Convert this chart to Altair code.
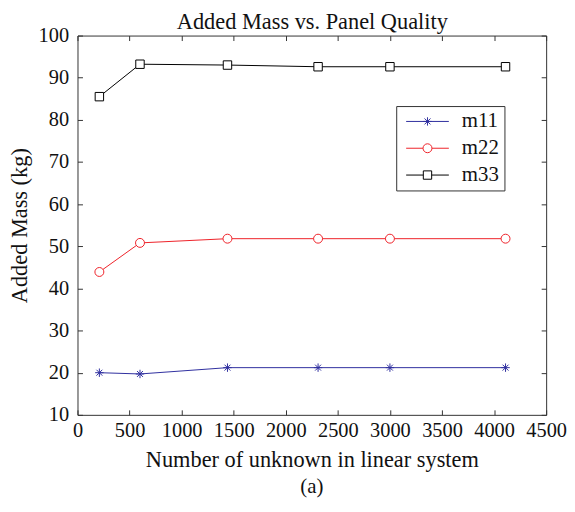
import altair as alt
import pandas as pd

# ---- data ----
chart_title = "Added Mass vs. Panel Quality"
x_title = "Number of unknown in linear system"
caption = "(a)"
y_title = "Added Mass (kg)"

series = ["m11", "m22", "m33"]
x_vals = [210, 600, 1440, 2310, 3000, 4110]
m11 = [20.0, 19.7, 21.2, 21.2, 21.2, 21.2]
m22 = [43.9, 50.8, 51.8, 51.8, 51.8, 51.8]
m33 = [85.5, 93.2, 93.0, 92.6, 92.6, 92.6]

x_ticks = [0, 500, 1000, 1500, 2000, 2500, 3000, 3500, 4000, 4500]
y_ticks = [10, 20, 30, 40, 50, 60, 70, 80, 90, 100]

# ---- styling ----
colors = ["#2f2f9f", "#ee2229", "#000000"]
FONT = "Liberation Serif"
AXC = "#333333"
TXT = "#111111"
LBL = 20.5
TTL = 22.5

star = "M-1,0H1M0,-1V1M-0.7,-0.7L0.7,0.7M-0.7,0.7L0.7,-0.7"
plot_shapes = [star, "circle", "square"]
plot_sizes = [72, 81, 72]

legend_shapes = [
    "M-2.15,0H2.15M-0.42,0H0.42M0,-0.42V0.42M-0.3,-0.3L0.3,0.3M-0.3,0.3L0.3,-0.3",
    "M-2.15,0H-0.45M0.45,0H2.15M0.45,0A0.45,0.45,0,1,1,-0.45,0A0.45,0.45,0,1,1,0.45,0Z",
    "M-2.15,0H-0.42M0.42,0H2.15M-0.42,-0.42H0.42V0.42H-0.42Z",
]

rows = []
for name, vals in zip(series, [m11, m22, m33]):
    for xv, yv in zip(x_vals, vals):
        rows.append({"series": name, "x": xv, "y": yv})
df = pd.DataFrame(rows)

xscale = alt.Scale(domain=[0, 4500], nice=False, zero=False)
yscale = alt.Scale(domain=[10, 100], nice=False, zero=False)
stroke_scale = alt.Scale(domain=series, range=colors)

x_axis = alt.Axis(values=x_ticks, title=x_title, format="d", offset=-5, tickSize=5, domain=False,
                  grid=False, labelPadding=6, titlePadding=8,
                  labelFont=FONT, labelFontSize=LBL, titleFont=FONT, titleFontSize=TTL,
                  titleFontWeight="normal", labelColor=TXT, titleColor=TXT,
                  tickColor=AXC, labelFlush=False, labelOverlap=False)
y_axis = alt.Axis(values=y_ticks, title=y_title, format="d", offset=-5, tickSize=5, domain=False,
                  grid=False, labelPadding=9, titlePadding=7,
                  labelFont=FONT, labelFontSize=LBL, titleFont=FONT, titleFontSize=TTL,
                  titleFontWeight="normal", labelColor=TXT, titleColor=TXT,
                  tickColor=AXC, labelFlush=False, labelOverlap=False)

X = alt.X("x:Q", scale=xscale, axis=x_axis)
Y = alt.Y("y:Q", scale=yscale, axis=y_axis)

base = alt.Chart(df)

layers = []
for s, col in zip(series, colors):
    layers.append(
        base.transform_filter(alt.datum.series == s)
        .mark_line(strokeWidth=1, stroke=col)
        .encode(x=X, y=Y)
    )
for s, col, shp, sz in zip(series, colors, plot_shapes, plot_sizes):
    layers.append(
        base.transform_filter(alt.datum.series == s)
        .mark_point(shape=shp, size=sz, filled=True, fill="white", stroke=col,
                    strokeWidth=1, opacity=1)
        .encode(x=X, y=Y)
    )

leg = alt.Legend(
    orient="none", legendX=321, legendY=71, title=None,
    padding=5, strokeColor=AXC, fillColor="white",
    labelFont=FONT, labelFontSize=21, labelColor=TXT,
    rowPadding=5, symbolSize=400, symbolOffset=16, labelOffset=24, symbolStrokeWidth=1,
)

legend_layer = base.transform_filter("false").mark_point(
    filled=True, fill="white", size=400, strokeWidth=1, opacity=1
).encode(
    x=X, y=Y,
    stroke=alt.Stroke("series:N", scale=stroke_scale, legend=leg),
    shape=alt.Shape("series:N", scale=alt.Scale(domain=series, range=legend_shapes), legend=leg),
)
layers.append(legend_layer)

inner = alt.layer(*layers)

# top/right axes: inward ticks on the frame; the top axis carries the chart title
frame_layer = base.transform_filter("false").mark_point().encode(
    x=alt.X("x:Q", scale=xscale, axis=alt.Axis(
        orient="top", labels=False, title=chart_title, titleFont=FONT, titleFontSize=TTL,
        titleFontWeight="normal", titleColor=TXT, titlePadding=2,
        values=x_ticks, offset=-5, tickSize=5, domain=False, grid=False, tickColor=AXC)),
    y=alt.Y("y:Q", scale=yscale, axis=alt.Axis(
        orient="right", labels=False, title=None,
        values=y_ticks, offset=-5, tickSize=5, domain=False, grid=False, tickColor=AXC)),
)

chart = alt.layer(inner, frame_layer).resolve_axis(
    x="independent", y="independent"
).properties(
    width=472, height=382,
    padding={"left": 0, "right": 0, "top": 0, "bottom": -1},
    title=alt.TitleParams(caption, orient="bottom", font=FONT, fontSize=21,
                          fontWeight="normal", color=TXT, offset=5, anchor="middle"),
).configure(
    font=FONT
).configure_axis(
    labelFont=FONT, titleFont=FONT
).configure_legend(
    labelFont=FONT
).configure_view(stroke=AXC, strokeWidth=1)

chart.save("out.html", embed_options={"renderer": "svg", "actions": False})
